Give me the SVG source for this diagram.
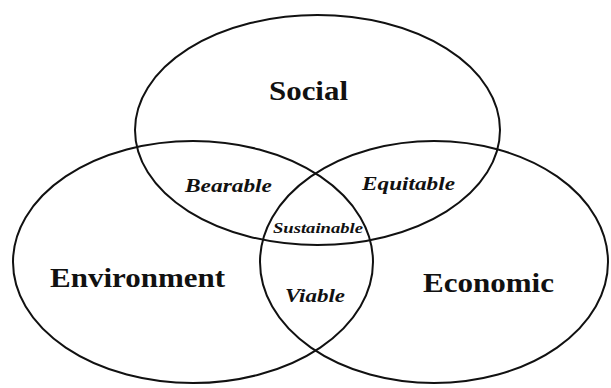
<svg xmlns="http://www.w3.org/2000/svg" width="611" height="388" viewBox="0 0 611 388">
<style>
.c{fill:none;stroke:#111;stroke-width:2}
.t{font-family:'Liberation Serif','Times New Roman','DejaVu Serif',serif;font-weight:bold;fill:#111}
.i{font-family:'Liberation Serif','Times New Roman','DejaVu Serif',serif;font-weight:bold;font-style:italic;fill:#111}
</style>
<rect width="611" height="388" fill="#fff"/>
<g id="social"><ellipse class="c" cx="317.5" cy="130" rx="182.5" ry="115"/><text class="t" x="269" y="100" font-size="27" textLength="79" lengthAdjust="spacingAndGlyphs">Social</text></g>
<g id="environment"><ellipse class="c" cx="193" cy="262" rx="180" ry="121"/><text class="t" x="50" y="287" font-size="28" textLength="175" lengthAdjust="spacingAndGlyphs">Environment</text></g>
<g id="economic"><ellipse class="c" cx="434" cy="262" rx="174" ry="121"/><text class="t" x="423" y="292" font-size="28" textLength="131" lengthAdjust="spacingAndGlyphs">Economic</text></g>
<g id="bearable"><text class="i" x="185" y="192" font-size="19" textLength="87" lengthAdjust="spacingAndGlyphs">Bearable</text></g>
<g id="equitable"><text class="i" x="362" y="190" font-size="19" textLength="93" lengthAdjust="spacingAndGlyphs">Equitable</text></g>
<g id="sustainable"><text class="i" x="273" y="233" font-size="15" textLength="90" lengthAdjust="spacingAndGlyphs">Sustainable</text></g>
<g id="viable"><text class="i" x="285" y="302" font-size="19" textLength="60" lengthAdjust="spacingAndGlyphs">Viable</text></g>
</svg>
